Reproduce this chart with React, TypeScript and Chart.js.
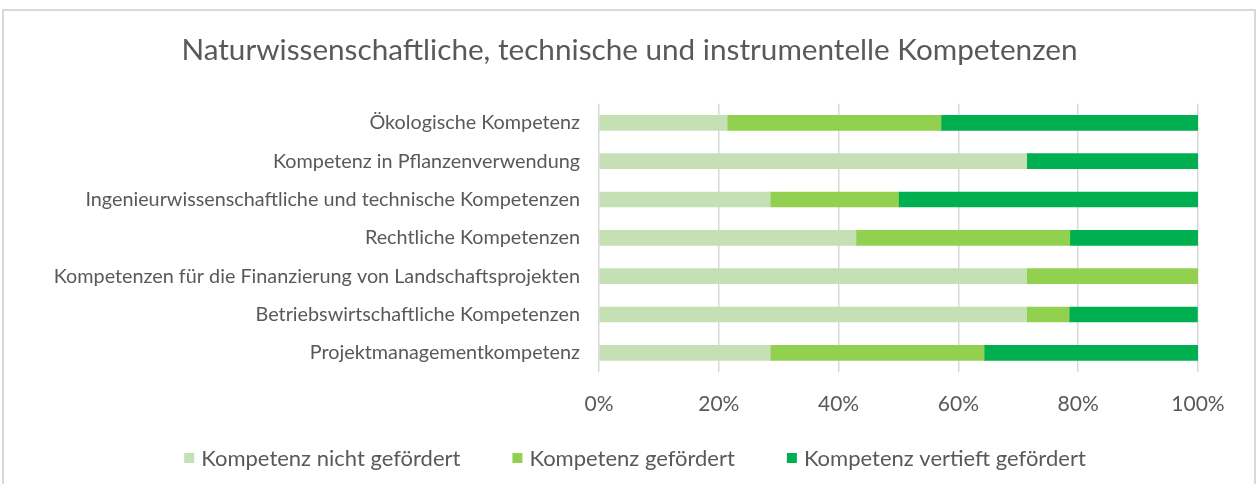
import React, { useEffect, useRef } from "react";
import { Chart, registerables } from "chart.js";

Chart.register(...registerables);

const categories = [
  "Ökologische Kompetenz",
  "Kompetenz in Pflanzenverwendung",
  "Ingenieurwissenschaftliche und technische Kompetenzen",
  "Rechtliche Kompetenzen",
  "Kompetenzen für die Finanzierung von Landschaftsprojekten",
  "Betriebswirtschaftliche Kompetenzen",
  "Projektmanagementkompetenz",
];

const nichtGefoerdert = [21.4, 71.4, 28.6, 42.9, 71.4, 71.4, 28.6];
const gefoerdert = [35.7, 0, 21.4, 35.7, 28.6, 7.1, 35.7];
const vertieftGefoerdert = [42.9, 28.6, 50.0, 21.4, 0, 21.4, 35.7];

const seriesNames = [
  "Kompetenz nicht gefördert",
  "Kompetenz gefördert",
  "Kompetenz vertieft gefördert",
];
const seriesColors = ["#c5e0b4", "#92d050", "#00b050"];

const FONT = "Lato, 'Open Sans', sans-serif";
const TEXT = "#595959";

// Centre the title over the whole canvas (the plot area is offset to the right)
const titleCenterPlugin = {
  id: "titleCenter",
  afterLayout(chart: any) {
    if (chart.titleBlock) {
      chart.titleBlock.left = 0;
      chart.titleBlock.right = chart.width;
    }
  },
};

// Excel-style legend: small square, short gap, wide spacing between items
const bottomLegendPlugin = {
  id: "bottomLegend",
  afterDraw(chart: any) {
    const ctx = chart.ctx;
    ctx.save();
    ctx.font = `22px ${FONT}`;
    ctx.textBaseline = "middle";
    ctx.textAlign = "left";
    const box = 10;
    const gapText = 7;
    const gapItem = 52;
    const items = chart.data.datasets.map((ds: any) => ({
      text: ds.label as string,
      color: ds.backgroundColor as string,
      w: ctx.measureText(ds.label).width,
    }));
    const total =
      items.reduce((a: number, it: any) => a + box + gapText + it.w, 0) + gapItem * (items.length - 1);
    let x = 635 - total / 2;
    const y = 458;
    for (const it of items) {
      ctx.fillStyle = it.color;
      ctx.fillRect(x, y - box / 2, box, box);
      x += box + gapText;
      ctx.fillStyle = TEXT;
      ctx.fillText(it.text, x, y + 1);
      x += it.w + gapItem;
    }
    ctx.restore();
  },
};

export default function App() {
  const ref = useRef<HTMLCanvasElement>(null);

  useEffect(() => {
    document.body.style.margin = "0";
    const ctx = ref.current!;
    const chart = new Chart(ctx, {
      type: "bar",
      data: {
        labels: categories,
        datasets: [nichtGefoerdert, gefoerdert, vertieftGefoerdert].map((d, i) => ({
          label: seriesNames[i],
          data: d,
          backgroundColor: seriesColors[i],
          borderWidth: 0,
          barThickness: 15,
        })),
      },
      options: {
        indexAxis: "y",
        animation: false,
        responsive: false,
        layout: { padding: { left: 10, right: 61, top: 12, bottom: 66 } },
        scales: {
          x: {
            stacked: true,
            min: 0,
            max: 100,
            afterFit: (s: any) => {
              s.height = 46;
            },
            ticks: {
              stepSize: 20,
              callback: (v: any) => v + "%",
              color: TEXT,
              font: { family: FONT, size: 21 },
              padding: 20,
            },
            grid: { color: "#d9d9d9", lineWidth: 1.5, drawTicks: false },
            border: { display: false },
          },
          y: {
            stacked: true,
            afterFit: (s: any) => {
              s.width = 589;
            },
            ticks: {
              color: TEXT,
              font: { family: FONT, size: 19.8 },
              padding: 11,
            },
            grid: { display: false },
            border: { display: false },
          },
        },
        plugins: {
          title: {
            display: true,
            text: "Naturwissenschaftliche, technische und instrumentelle Kompetenzen",
            color: TEXT,
            font: { family: FONT, size: 29.7, weight: "normal" },
            padding: { top: 21, bottom: 35 },
          },
          legend: { display: false },
          tooltip: { enabled: false },
        },
      },
      plugins: [titleCenterPlugin, bottomLegendPlugin],
    });
    return () => chart.destroy();
  }, []);

  return (
    <div style={{ position: "relative", width: 1259, height: 484, overflow: "hidden", background: "#fff" }}>
      <canvas ref={ref} width={1259} height={484} style={{ position: "absolute", left: 0, top: 0 }} />
      <div
        style={{
          position: "absolute",
          left: 2,
          top: 9,
          width: 1250,
          height: 500,
          border: "2px solid #d9d9d9",
          pointerEvents: "none",
        }}
      />
    </div>
  );
}
